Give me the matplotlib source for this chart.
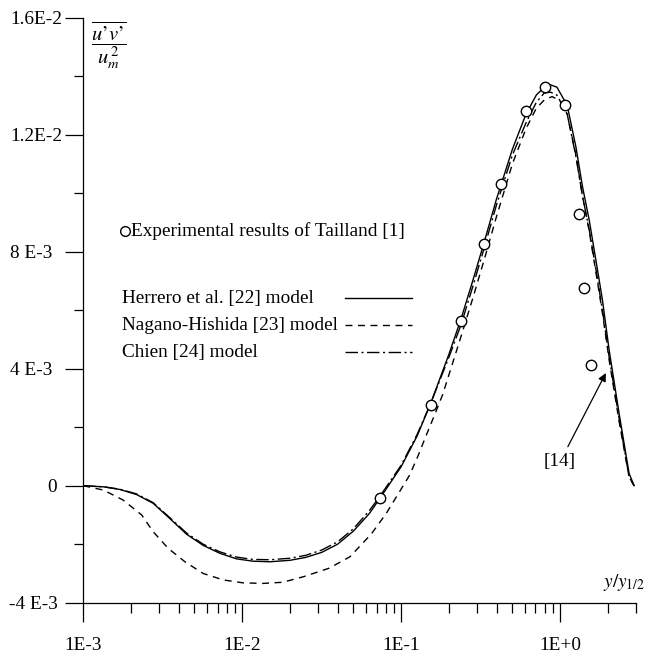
"""Reynolds shear stress profile u'v'/um^2 vs y/y1/2 (log x axis)."""
import numpy as np
import matplotlib
matplotlib.use('Agg')
import matplotlib.pyplot as plt
from matplotlib.lines import Line2D
from matplotlib.ticker import LogLocator, MultipleLocator, NullFormatter

plt.rcParams['font.family'] = ['Liberation Serif', 'DejaVu Serif']
plt.rcParams['mathtext.fontset'] = 'stix'

# --- data ---
# experimental points (Tailland [1])
x_exp = [0.0731, 0.153, 0.238, 0.332, 0.425, 0.610, 0.803, 1.072, 1.318, 1.417, 1.561]
y_exp = [-0.00041, 0.00276, 0.00564, 0.00825, 0.01032, 0.01281, 0.01361, 0.01301,
         0.00928, 0.00677, 0.00412]

# Herrero et al. [22] model
x_herrero = [0.001, 0.00135, 0.0017, 0.00216, 0.00275, 0.0035, 0.00447, 0.00568, 0.00723,
             0.0092, 0.0117, 0.0149, 0.02, 0.0251, 0.0316, 0.0398, 0.0501, 0.0631, 0.0731,
             0.1, 0.126, 0.153, 0.2, 0.238, 0.282, 0.332, 0.398, 0.501, 0.61, 0.708, 0.794,
             0.871, 0.955, 1.108, 1.257, 1.383, 1.524, 1.679, 1.846, 2.034, 2.35, 2.716, 2.92]
y_herrero = [0.0, -0.00004, -0.00013, -0.0003, -0.0006, -0.00112, -0.00166, -0.00204,
             -0.00231, -0.0025, -0.00258, -0.0026, -0.00255, -0.00245, -0.00228, -0.002,
             -0.00155, -0.00095, -0.00045, 0.00065, 0.0017, 0.0028, 0.0045, 0.0057, 0.007,
             0.0083, 0.0098, 0.0115, 0.0127, 0.01335, 0.01362, 0.0137, 0.01362, 0.013,
             0.01158, 0.01022, 0.00908, 0.00771, 0.00635, 0.00464, 0.00247, 0.00042, 0.0]

# Nagano-Hishida [23] model
x_nagano = [0.001, 0.00134, 0.00178, 0.00233, 0.00275, 0.00342, 0.00436, 0.00568, 0.00759,
            0.0101, 0.0135, 0.018, 0.0243, 0.0352, 0.0476, 0.0649, 0.0805, 0.0953, 0.113,
            0.127, 0.144, 0.162, 0.182, 0.2, 0.238, 0.282, 0.332, 0.398, 0.501, 0.61, 0.708,
            0.794, 0.891, 1.0, 1.108, 1.257, 1.383, 1.524, 1.679, 1.846, 2.034, 2.35, 2.716,
            2.92]
y_nagano = [0.0, -0.00015, -0.00049, -0.001, -0.00157, -0.00214, -0.0026, -0.003, -0.00322,
            -0.00332, -0.00334, -0.0033, -0.00311, -0.00282, -0.00243, -0.00165, -0.00095,
            -0.0003, 0.00036, 0.00099, 0.00173, 0.00241, 0.0031, 0.0038, 0.0051, 0.0064,
            0.0077, 0.0092, 0.011, 0.0122, 0.0129, 0.01318, 0.0133, 0.01315, 0.0127, 0.0113,
            0.0099, 0.0087, 0.0073, 0.0059, 0.0043, 0.0022, 0.0003, 0.0]

# Chien [24] model
x_chien = x_herrero
y_chien = [0.0, -0.00004, -0.00012, -0.00028, -0.00058, -0.00109, -0.00162, -0.002, -0.00226,
           -0.00244, -0.00252, -0.00253, -0.00248, -0.00238, -0.0022, -0.00192, -0.00147,
           -0.00085, -0.00038, 0.0007, 0.00175, 0.0028, 0.0044, 0.0055, 0.0068, 0.0081,
           0.0096, 0.0113, 0.0124, 0.0131, 0.01342, 0.01345, 0.01335, 0.0127, 0.01125,
           0.0099, 0.00875, 0.0074, 0.006, 0.0044, 0.0023, 0.0003, 0.0]

x_ticks = [1e-3, 1e-2, 1e-1, 1.0]
x_ticklabels = ['1E-3', '1E-2', '1E-1', '1E+0']
y_ticks = [-0.004, 0.0, 0.004, 0.008, 0.012, 0.016]
y_ticklabels = ['-4 E-3 ', '0 ', '4 E-3  ', '8 E-3  ', '1.2E-2', '1.6E-2']

FS = 13.9
LW = 1.0
dash_nagano = (5, 4)
dash_chien = (9, 2.5, 1.5, 2.5)

fig = plt.figure(figsize=(6.63, 6.55), dpi=100)
ax = fig.add_axes([0.1256, 0.0798, 0.8336, 0.8934])

ax.plot(x_herrero, y_herrero, color='k', lw=LW)
ax.plot(x_nagano, y_nagano, color='k', lw=LW, dashes=dash_nagano)
ax.plot(x_chien, y_chien, color='k', lw=LW, dashes=dash_chien)
ax.plot(x_exp, y_exp, 'o', ms=7.5, mfc='white', mec='k', mew=1.0, zorder=5)

ax.set_xscale('log')
ax.set_xlim(1e-3, 3)
ax.set_ylim(-0.004, 0.016)

ax.set_xticks(x_ticks)
ax.set_xticklabels(x_ticklabels)
ax.xaxis.set_minor_locator(LogLocator(base=10, subs=np.arange(2, 10), numticks=20))
ax.xaxis.set_minor_formatter(NullFormatter())
ax.set_yticks(y_ticks)
ax.set_yticklabels(y_ticklabels)
ax.yaxis.set_minor_locator(MultipleLocator(0.002))

for s in ['top', 'right']:
    ax.spines[s].set_visible(False)
for s in ['left', 'bottom']:
    ax.spines[s].set_linewidth(0.9)

ax.tick_params(axis='x', which='major', length=13.7, width=0.9, pad=11, labelsize=FS)
ax.tick_params(axis='x', which='minor', length=7.2, width=0.9)
ax.tick_params(axis='y', which='major', length=13, width=0.9, pad=2, labelsize=FS)
ax.tick_params(axis='y', which='minor', length=6.5, width=0.9)

# axis titles
fig.text(0.164, 0.932, r"$\dfrac{\overline{u’v’}}{u_m^{\,2}}$", fontsize=FS + 1,
         ha='center', va='center')
ax.text(1.016, 0.034, r'$y/y_{1/2}$', transform=ax.transAxes, fontsize=FS,
        ha='right', va='center')

# annotation
ax.annotate('[14]', xy=(1.94, 0.00385), xytext=(1.0, 0.00082), fontsize=FS,
            ha='center', va='center',
            arrowprops=dict(arrowstyle='-|>', color='k', lw=0.9, shrinkA=3, shrinkB=0,
                            mutation_scale=12))

# hand-made legend (text on the left, line samples on the right)
fig.add_artist(Line2D([125 / 663], [1 - 231 / 655], marker='o', ms=7, mfc='white',
                      mec='k', mew=1.0, ls='none'))
fig.text(131 / 663, 1 - 231 / 655, 'Experimental results of Tailland [1]', fontsize=FS,
         va='center')
rows = [('Herrero et al. [22] model', None, 298),
        ('Nagano-Hishida [23] model', dash_nagano, 325),
        ('Chien [24] model', dash_chien, 352)]
for label, dash, ypix in rows:
    yf = 1 - ypix / 655
    fig.text(121.7 / 663, yf, label, fontsize=FS, va='center')
    ln = Line2D([345 / 663, 412 / 663], [yf, yf], color='k', lw=LW)
    if dash is not None:
        ln.set_dashes(dash)
    fig.add_artist(ln)

fig.savefig('out.png', dpi=100)
